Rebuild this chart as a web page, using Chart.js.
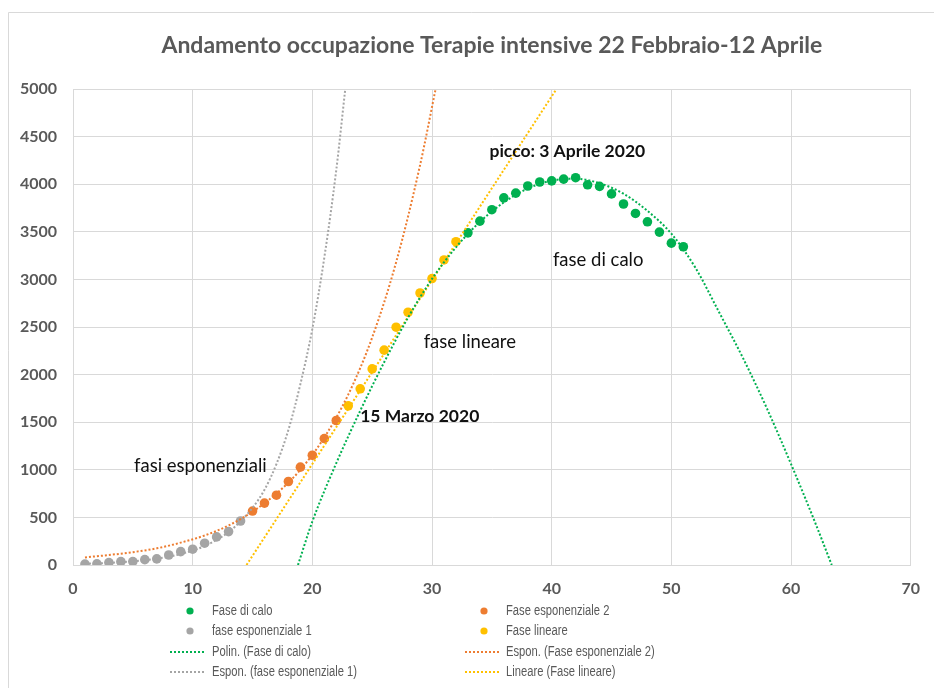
<!DOCTYPE html>
<html>
<head>
<meta charset="utf-8">
<script src="https://cdn.jsdelivr.net/npm/chart.js@4.4.1/dist/chart.umd.min.js"></script>
<style>
body { margin: 0; background: #fff; }
</style>
</head>
<body>
<canvas id="grafico" width="934" height="688"></canvas>
<script>
// giorni dal 22 febbraio (x) e pazienti in terapia intensiva (y)
var giorniEsp1 = [1, 2, 3, 4, 5, 6, 7, 8, 9, 10, 11, 12, 13, 14];
var valoriEsp1 = [10, 12, 26, 35, 36, 56, 64, 105, 140, 166, 229, 295, 351, 462];
var giorniEsp2 = [15, 16, 17, 18, 19, 20, 21, 22];
var valoriEsp2 = [567, 650, 733, 877, 1028, 1153, 1328, 1518];
var giorniLin = [23, 24, 25, 26, 27, 28, 29, 30, 31, 32];
var valoriLin = [1672, 1851, 2060, 2257, 2498, 2655, 2857, 3009, 3204, 3396];
var giorniCalo = [33, 34, 35, 36, 37, 38, 39, 40, 41, 42, 43, 44, 45, 46, 47, 48, 49, 50, 51];
var valoriCalo = [3489, 3612, 3732, 3856, 3906, 3981, 4023, 4035, 4053, 4068, 3994, 3977, 3898, 3792, 3693, 3605, 3497, 3381, 3343];

// linee di tendenza, lette punto per punto dal grafico originale
var tendCaloX = [18.8, 20, 22, 24, 26, 28, 30, 32, 34, 36, 38, 40, 42, 44, 46, 48, 50, 52, 54, 56, 58, 60, 62, 63.4];
var tendCaloY = [0, 457, 1070, 1620, 2130, 2600, 3005, 3337, 3604, 3809, 3954, 4037, 4058, 4010, 3900, 3720, 3480, 3124, 2652, 2170, 1640, 1060, 450, 0];
var tendEsp1X = [1, 3, 5, 7, 9, 11, 13, 14, 15, 16, 17, 18, 19, 20, 21, 22, 22.75];
var tendEsp1Y = [13, 22, 38, 66, 115, 200, 345, 460, 600, 790, 1060, 1420, 1900, 2480, 3230, 4150, 5000];
var tendEsp2X = [1, 3, 5, 7, 9, 11, 13, 15, 17, 19, 21, 23, 25, 27, 29, 30.3];
var tendEsp2Y = [80, 105, 135, 175, 235, 310, 415, 560, 750, 1000, 1340, 1790, 2390, 3180, 4200, 5000];
var tendLinX = [14.5, 40.4];
var tendLinY = [0, 5000];

var tickX = [0, 10, 20, 30, 40, 50, 60, 70];
var tickY = [0, 500, 1000, 1500, 2000, 2500, 3000, 3500, 4000, 4500, 5000];

var titolo = 'Andamento occupazione Terapie intensive 22 Febbraio-12 Aprile';
var note = [
  { testo: 'picco: 3 Aprile 2020', x: 34.8, y: 4350, bold: true },
  { testo: 'fase di calo', x: 40.1, y: 3200, bold: false },
  { testo: 'fase lineare', x: 29.3, y: 2340, bold: false },
  { testo: '15 Marzo 2020', x: 24.0, y: 1565, bold: true },
  { testo: 'fasi esponenziali', x: 5.1, y: 1040, bold: false }
];
var legendaSx = ['Fase di calo', 'fase esponenziale 1', 'Polin. (Fase di calo)', 'Espon. (fase esponenziale 1)'];
var legendaDx = ['Fase esponenziale 2', 'Fase lineare', 'Espon. (Fase esponenziale 2)', 'Lineare (Fase lineare)'];

var verde = '#00b050', arancio = '#ed7d31', grigio = '#a5a5a5', giallo = '#ffc000';
var griglia = '#d9d9d9';
var grigioTesto = '#595959';

function punti(xs, ys) {
  return xs.map(function (v, i) { return { x: v, y: ys[i] }; });
}

function tendenza(label, xs, ys, colore) {
  return {
    label: label, data: punti(xs, ys), showLine: true, tipo: 'linea',
    borderColor: colore, backgroundColor: colore, borderWidth: 2, borderDash: [2, 2],
    pointRadius: 0, cubicInterpolationMode: 'monotone'
  };
}

function serie(label, xs, ys, colore) {
  return {
    label: label, data: punti(xs, ys), showLine: false, tipo: 'punto',
    backgroundColor: colore, borderColor: colore, borderWidth: 0, pointRadius: 4.8
  };
}

var sfondo = {
  id: 'sfondo',
  beforeDraw: function (chart) {
    var ctx = chart.ctx;
    ctx.save();
    ctx.fillStyle = '#fff';
    ctx.fillRect(0, 0, chart.width, chart.height);
    ctx.strokeStyle = griglia;
    ctx.lineWidth = 1;
    ctx.beginPath();
    ctx.moveTo(8.5, chart.height);
    ctx.lineTo(8.5, 12.5);
    ctx.lineTo(chart.width, 12.5);
    ctx.stroke();
    ctx.fillStyle = grigioTesto;
    ctx.font = 'bold 23px Lato';
    ctx.textAlign = 'center';
    ctx.textBaseline = 'middle';
    var area = chart.chartArea;
    ctx.fillText(titolo, (area.left + area.right) / 2, 46);
    ctx.restore();
  }
};

var testi = {
  id: 'testi',
  afterDraw: function (chart) {
    var ctx = chart.ctx;
    var sx = chart.scales.x, sy = chart.scales.y;
    ctx.save();
    ctx.textAlign = 'left';
    ctx.textBaseline = 'middle';
    ctx.fillStyle = '#111';
    note.forEach(function (n) {
      ctx.font = n.bold ? 'bold 17.5px Lato' : '18.5px Lato';
      ctx.fillText(n.testo, sx.getPixelForValue(n.x), sy.getPixelForValue(n.y));
    });

    // legenda su due colonne
    var righe = [611, 631, 652, 672];
    var colonne = [{ nomi: legendaSx, xm: 190, xl: 170, xt: 212 }, { nomi: legendaDx, xm: 484, xl: 465, xt: 506 }];
    colonne.forEach(function (c) {
      c.nomi.forEach(function (nome, r) {
        var ds = chart.data.datasets.find(function (d) { return d.label === nome; });
        var y = righe[r];
        if (ds.tipo === 'punto') {
          ctx.fillStyle = ds.backgroundColor;
          ctx.beginPath();
          ctx.arc(c.xm, y, 3.6, 0, Math.PI * 2);
          ctx.fill();
        } else {
          ctx.strokeStyle = ds.borderColor;
          ctx.lineWidth = 2;
          ctx.setLineDash([2, 2]);
          ctx.beginPath();
          ctx.moveTo(c.xl, y);
          ctx.lineTo(c.xl + 34, y);
          ctx.stroke();
          ctx.setLineDash([]);
        }
        // testo stretto come nell'originale
        ctx.save();
        ctx.translate(c.xt, y);
        ctx.scale(0.8, 1);
        ctx.font = '14px "Liberation Sans", sans-serif';
        ctx.fillStyle = grigioTesto;
        ctx.fillText(nome, 0, 0);
        ctx.restore();
      });
    });
    ctx.restore();
  }
};

new Chart(document.getElementById('grafico'), {
  type: 'scatter',
  data: {
    datasets: [
      tendenza('Polin. (Fase di calo)', tendCaloX, tendCaloY, verde),
      tendenza('Espon. (Fase esponenziale 2)', tendEsp2X, tendEsp2Y, arancio),
      tendenza('Espon. (fase esponenziale 1)', tendEsp1X, tendEsp1Y, grigio),
      tendenza('Lineare (Fase lineare)', tendLinX, tendLinY, giallo),
      serie('Fase di calo', giorniCalo, valoriCalo, verde),
      serie('Fase esponenziale 2', giorniEsp2, valoriEsp2, arancio),
      serie('fase esponenziale 1', giorniEsp1, valoriEsp1, grigio),
      serie('Fase lineare', giorniLin, valoriLin, giallo)
    ]
  },
  options: {
    responsive: false,
    animation: false,
    layout: { padding: { left: 10, right: 13, top: 89, bottom: 0 } },
    plugins: { legend: { display: false }, tooltip: { enabled: false }, title: { display: false } },
    scales: {
      x: {
        type: 'linear', min: 0, max: 70,
        afterBuildTicks: function (s) { s.ticks = tickX.map(function (v) { return { value: v }; }); },
        afterFit: function (s) { s.height = 123; },
        grid: { color: griglia, drawTicks: false },
        border: { color: griglia },
        ticks: {
          color: grigioTesto, font: { family: 'Lato', size: 16, weight: 'bold' }, padding: 14, maxRotation: 0,
          callback: function (v) { return String(v); }
        }
      },
      y: {
        type: 'linear', min: 0, max: 5000,
        afterBuildTicks: function (s) { s.ticks = tickY.map(function (v) { return { value: v }; }); },
        afterFit: function (s) { s.width = 63; },
        grid: { color: griglia, drawTicks: false },
        border: { color: griglia },
        ticks: {
          color: grigioTesto, font: { family: 'Lato', size: 16, weight: 'bold' }, padding: 16,
          callback: function (v) { return String(v); }
        }
      }
    }
  },
  plugins: [sfondo, testi]
});
</script>
</body>
</html>
